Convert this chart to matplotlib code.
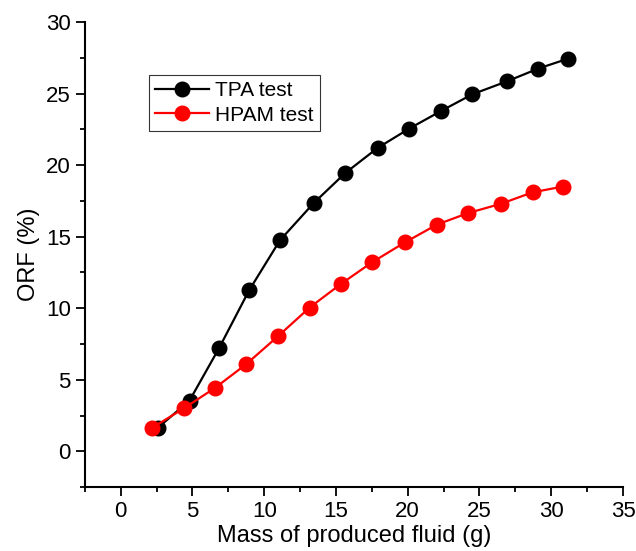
import matplotlib
matplotlib.use("Agg")
import matplotlib.pyplot as plt
from matplotlib.ticker import MultipleLocator

plt.rcParams['font.family'] = ['Liberation Sans', 'DejaVu Sans']

# TPA test
tpa_mass = [2.6, 4.8, 6.85, 8.95, 11.1, 13.45, 15.65, 17.9, 20.1, 22.35, 24.5, 26.9, 29.1, 31.2]
tpa_orf = [1.65, 3.55, 7.2, 11.25, 14.75, 17.35, 19.45, 21.2, 22.55, 23.8, 24.95, 25.85, 26.75, 27.45]

# HPAM test
hpam_mass = [2.2, 4.4, 6.6, 8.76, 10.97, 13.17, 15.35, 17.5, 19.8, 22.05, 24.2, 26.5, 28.7, 30.8]
hpam_orf = [1.65, 3.0, 4.45, 6.1, 8.05, 10.05, 11.7, 13.2, 14.6, 15.85, 16.65, 17.3, 18.1, 18.5]

fig = plt.figure(figsize=(6.36, 5.51), dpi=100)
ax = fig.add_axes([0.1333, 0.116, 0.8463, 0.844])

ax.plot(tpa_mass, tpa_orf, color="black", lw=1.6, marker="o", ms=10.5,
        label="TPA test", zorder=3)
ax.plot(hpam_mass, hpam_orf, color="red", lw=1.6, marker="o", ms=10.5,
        label="HPAM test", zorder=4)

ax.set_xlim(-2.5, 35)
ax.set_ylim(-2.5, 30)
ax.xaxis.set_major_locator(MultipleLocator(5))
ax.xaxis.set_minor_locator(MultipleLocator(2.5))
ax.yaxis.set_major_locator(MultipleLocator(5))
ax.yaxis.set_minor_locator(MultipleLocator(2.5))

for side in ["top", "right"]:
    ax.spines[side].set_visible(False)
for side in ["left", "bottom"]:
    ax.spines[side].set_linewidth(1.5)

ax.tick_params(which="major", direction="out", length=6.5, width=1.3, labelsize=16)
ax.tick_params(which="minor", direction="out", length=3.5, width=1.3)

ax.set_xlabel("Mass of produced fluid (g)", fontsize=17, labelpad=2)
ax.set_ylabel("ORF (%)", fontsize=17, labelpad=4)

leg = ax.legend(loc="upper left", bbox_to_anchor=(0.119, 0.886), fontsize=15,
                frameon=True, fancybox=False, edgecolor="black",
                borderaxespad=0, handlelength=2.6, borderpad=0.3,
                labelspacing=0.25, handletextpad=0.3)
leg.get_frame().set_linewidth(0.8)

fig.savefig("out.png", dpi=100)
